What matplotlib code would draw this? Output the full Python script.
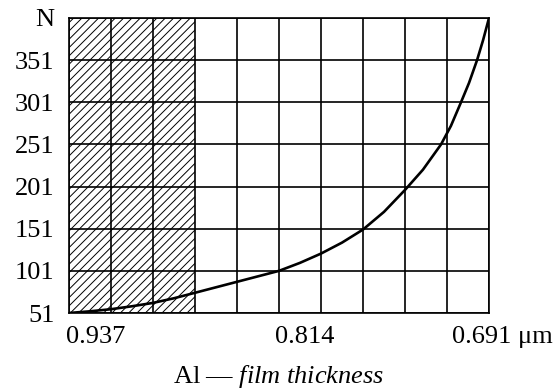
import matplotlib
matplotlib.use("Agg")
import matplotlib.pyplot as plt
import numpy as np

plt.rcParams['font.family'] = ['Liberation Serif', 'DejaVu Serif']
plt.rcParams['mathtext.fontset'] = 'custom'
plt.rcParams['mathtext.rm'] = 'Liberation Serif'
plt.rcParams['mathtext.it'] = 'Liberation Serif:italic'
plt.rcParams['hatch.linewidth'] = 0.7

# film thickness (um) vs N
thickness = [0.937, 0.9247, 0.9124, 0.9001, 0.8878, 0.8755, 0.8632, 0.8509,
             0.8386, 0.8263, 0.814, 0.8017, 0.7894, 0.7771, 0.7648, 0.7525,
             0.7402, 0.7297, 0.7191, 0.7133, 0.7074, 0.7027, 0.6980,
             0.6945, 0.691]
n_values = [51, 53, 55.5, 59, 63, 68.5, 75, 81.5,
            88, 94.5, 101, 110.5, 121.5, 134.5, 150, 171,
            197, 221, 251, 273, 301, 324, 351,
            374.5, 401]

y_ticks = [51, 101, 151, 201, 251, 301, 351, 401]
y_labels = ["51", "101", "151", "201", "251", "301", "351", "N"]
x_grid = np.linspace(0.937, 0.691, 11)
hatch_from, hatch_to = 0.937, 0.8632

fig = plt.figure(figsize=(5.58, 3.89), dpi=100)
ax = fig.add_axes([69/558, 76/389, 420/558, 295/389])

ax.axvspan(hatch_to, hatch_from, facecolor="none", edgecolor="black",
           hatch="////", linewidth=0)
for xv in x_grid:
    ax.axvline(xv, color="black", lw=1.2, zorder=2)
for yv in y_ticks:
    ax.axhline(yv, color="black", lw=1.2, zorder=2)

ax.plot(thickness, n_values, color="black", lw=1.9, zorder=3,
        solid_capstyle="round", solid_joinstyle="round")

ax.set_xlim(0.937, 0.691)
ax.set_ylim(51, 401)
for s in ax.spines.values():
    s.set_linewidth(1.2)

ax.set_yticks(y_ticks)
ax.set_yticklabels(y_labels, fontsize=19)
ax.tick_params(axis="y", length=0, pad=10.5)
ax.set_xticks([])

# x labels sit to the right of their grid line, as in the source
lab_y = 51 - 13/295*350
ax.text(0.939, lab_y, "0.937", fontsize=19, ha="left", va="top")
ax.text(0.8163, lab_y, "0.814", fontsize=19, ha="left", va="top")
ax.text(0.7127, lab_y, "0.691 μm", fontsize=19, ha="left", va="top")

fig.text(279/558, 1 - 376/389, r"Al — $\mathit{film\ thickness}$",
         fontsize=19, ha="center", va="center")

fig.savefig("out.png", dpi=100)
